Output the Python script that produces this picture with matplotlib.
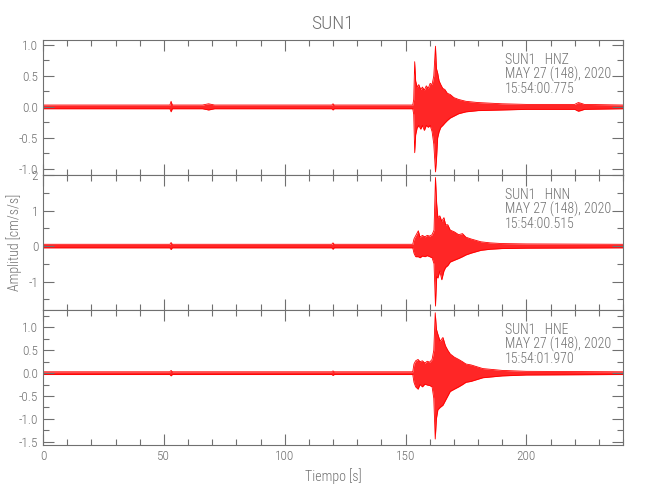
import matplotlib
matplotlib.use("Agg")
import matplotlib.pyplot as plt
from matplotlib import font_manager
from matplotlib.ticker import MultipleLocator, FormatStrFormatter

# ---------------- data (envelopes) ----------------
title = "SUN1"
channels = ["HNZ", "HNN", "HNE"]
start_times = ["15:54:00.775", "15:54:00.515", "15:54:01.970"]
date_label = "MAY 27 (148), 2020"

# HNZ envelope: time [s], upper, lower
hnz_t = [0, 10, 52.5, 53, 53.5, 66, 68.5, 71, 100, 119.5, 120, 120.5, 153, 153.4,
         153.8, 154.2, 154.8, 155.5, 156.3, 157, 157.8, 158.6, 159.4, 160.2, 161,
         161.7, 162.4, 162.8, 163.3, 163.9, 164.6, 165.4, 166.3, 167.3, 168.5, 170,
         172, 175, 180, 190, 200, 220, 221.5, 222.5, 224, 240]
hnz_up = [0.03, 0.03, 0.03, 0.09, 0.03, 0.03, 0.05, 0.03, 0.03, 0.03, 0.05, 0.03,
          0.03, 0.12, 0.73, 0.42, 0.32, 0.36, 0.28, 0.32, 0.27, 0.34, 0.3, 0.38, 0.36,
          0.5, 0.98, 0.62, 0.55, 0.42, 0.36, 0.3, 0.28, 0.22, 0.2, 0.15, 0.12, 0.09,
          0.07, 0.05, 0.04, 0.04, 0.07, 0.06, 0.04, 0.03]
hnz_lo = [-0.03, -0.03, -0.03, -0.08, -0.03, -0.03, -0.05, -0.03, -0.03, -0.03,
          -0.05, -0.03, -0.03, -0.12, -0.74, -0.45, -0.34, -0.3, -0.36, -0.3, -0.38,
          -0.3, -0.33, -0.3, -0.4, -0.6, -1.05, -0.86, -0.5, -0.4, -0.33, -0.3, -0.26,
          -0.22, -0.18, -0.15, -0.11, -0.08, -0.06, -0.05, -0.04, -0.04, -0.07, -0.06,
          -0.04, -0.03]

# HNN envelope
hnn_t = [0, 52.5, 53, 53.5, 119.5, 120, 120.5, 153, 153.5, 154.2, 155.3, 156, 157,
         158, 159, 160, 161, 161.8, 162.4, 162.9, 163.4, 164.2, 165, 165.9, 166.6,
         167.5, 168.5, 170.2, 172, 173.6, 175, 177.1, 181.2, 185, 190, 200, 240]
hnn_up = [0.05, 0.05, 0.1, 0.05, 0.05, 0.09, 0.05, 0.05, 0.2, 0.29, 0.43, 0.25,
          0.3, 0.26, 0.3, 0.28, 0.32, 0.45, 1.93, 1.19, 0.8, 0.85, 0.7, 0.8, 0.6,
          0.6, 0.45, 0.4, 0.32, 0.35, 0.25, 0.2, 0.12, 0.09, 0.07, 0.06, 0.05]
hnn_lo = [-0.05, -0.05, -0.1, -0.05, -0.05, -0.09, -0.05, -0.05, -0.2, -0.3, -0.3,
          -0.33, -0.28, -0.3, -0.27, -0.3, -0.33, -0.5, -1.69, -0.86, -0.9, -0.7,
          -0.95, -0.7, -0.6, -0.55, -0.45, -0.4, -0.35, -0.3, -0.25, -0.2, -0.12,
          -0.09, -0.07, -0.06, -0.05]

# HNE envelope
hne_t = [0, 52.5, 53, 53.5, 119.5, 120, 120.5, 153, 153.5, 154.2, 155.2, 156, 157,
         158, 159, 160, 161, 161.7, 162.3, 162.8, 163.4, 164.3, 165.5, 166.5, 167.5,
         168.5, 170.2, 172, 173.6, 175, 177.1, 182, 190, 200, 240]
hne_up = [0.03, 0.03, 0.06, 0.03, 0.03, 0.05, 0.03, 0.03, 0.2, 0.27, 0.3, 0.25,
          0.27, 0.22, 0.26, 0.24, 0.3, 0.5, 1.32, 0.96, 0.85, 0.7, 0.78, 0.6, 0.5,
          0.42, 0.35, 0.3, 0.25, 0.2, 0.18, 0.1, 0.06, 0.04, 0.03]
hne_lo = [-0.03, -0.03, -0.06, -0.03, -0.03, -0.05, -0.03, -0.03, -0.2, -0.3,
          -0.35, -0.25, -0.3, -0.24, -0.26, -0.27, -0.3, -0.55, -1.44, -0.99, -0.8,
          -0.75, -0.7, -0.6, -0.5, -0.4, -0.35, -0.3, -0.25, -0.2, -0.18, -0.1,
          -0.06, -0.04, -0.03]

ylims = [(-1.1, 1.08), (-1.8, 2.0), (-1.57, 1.38)]
y_major = [0.5, 1.0, 0.5]
y_minor = [0.25, 0.5, 0.25]
y_fmt = ["%.1f", "%d", "%.1f"]
x_max = 240

series = [(hnz_t, hnz_up, hnz_lo), (hnn_t, hnn_up, hnn_lo), (hne_t, hne_up, hne_lo)]

# ---------------- style ----------------
fl = font_manager.fontManager.ttflist
names = {f.name for f in fl}
fam = "DejaVu Sans"
for cand in ["Roboto Condensed", "Liberation Sans Narrow", "Open Sans Condensed",
             "Noto Sans Condensed"]:
    if cand in names:
        fam = cand
        break
weight = "light" if any(f.name == fam and f.weight in (300, "light") for f in fl) else "normal"

plt.rcParams["font.family"] = [fam, "DejaVu Sans"]
plt.rcParams["font.weight"] = weight
plt.rcParams["axes.titleweight"] = weight
plt.rcParams["axes.labelweight"] = weight
grey = "#707070"

fig = plt.figure(figsize=(6.5, 5.0), dpi=100)
left, right = 43 / 650, 623 / 650
tops = [40, 175, 310]
h = 135

axes = []
for i in range(3):
    bottom = 1 - (tops[i] + h) / 500
    ax = fig.add_axes([left, bottom, right - left, h / 500])
    axes.append(ax)
    t, up, lo = series[i]
    ax.fill_between(t, lo, up, color="#ff0000", alpha=0.85, linewidth=0)
    ax.plot(t, up, color="#ff0000", lw=0.6)
    ax.plot(t, lo, color="#ff0000", lw=0.6)
    ax.set_xlim(0, x_max)
    ax.set_ylim(*ylims[i])
    ax.xaxis.set_major_locator(MultipleLocator(50))
    ax.xaxis.set_minor_locator(MultipleLocator(10))
    ax.yaxis.set_major_locator(MultipleLocator(y_major[i]))
    ax.yaxis.set_minor_locator(MultipleLocator(y_minor[i]))
    ax.yaxis.set_major_formatter(FormatStrFormatter(y_fmt[i]))
    ax.tick_params(which="both", direction="in", top=True, right=True,
                   color=grey, labelcolor=grey, labelsize=9.5, width=0.8)
    ax.tick_params(which="major", length=8)
    ax.tick_params(which="minor", length=4)
    for s in ax.spines.values():
        s.set_color(grey)
        s.set_linewidth(0.8)
    if i < 2:
        ax.tick_params(labelbottom=False)
    kw = dict(transform=ax.transAxes, color=grey, fontsize=10, va="center",
              ha="left", fontweight=weight)
    ax.text(0.797, 0.855, f"SUN1   {channels[i]}", **kw)
    ax.text(0.797, 0.745, date_label, **kw)
    ax.text(0.797, 0.635, start_times[i], **kw)

axes[0].set_title(title, color=grey, fontsize=14, pad=8, fontweight=weight)
axes[2].set_xlabel("Tiempo [s]", color=grey, fontsize=10, labelpad=4,
                   fontweight=weight)
fig.text(14 / 650, 1 - 242 / 500, "Amplitud [cm/s/s]", rotation=90, color=grey,
         fontsize=10, va="center", ha="center", fontweight=weight)

fig.savefig("out.png", dpi=100)
